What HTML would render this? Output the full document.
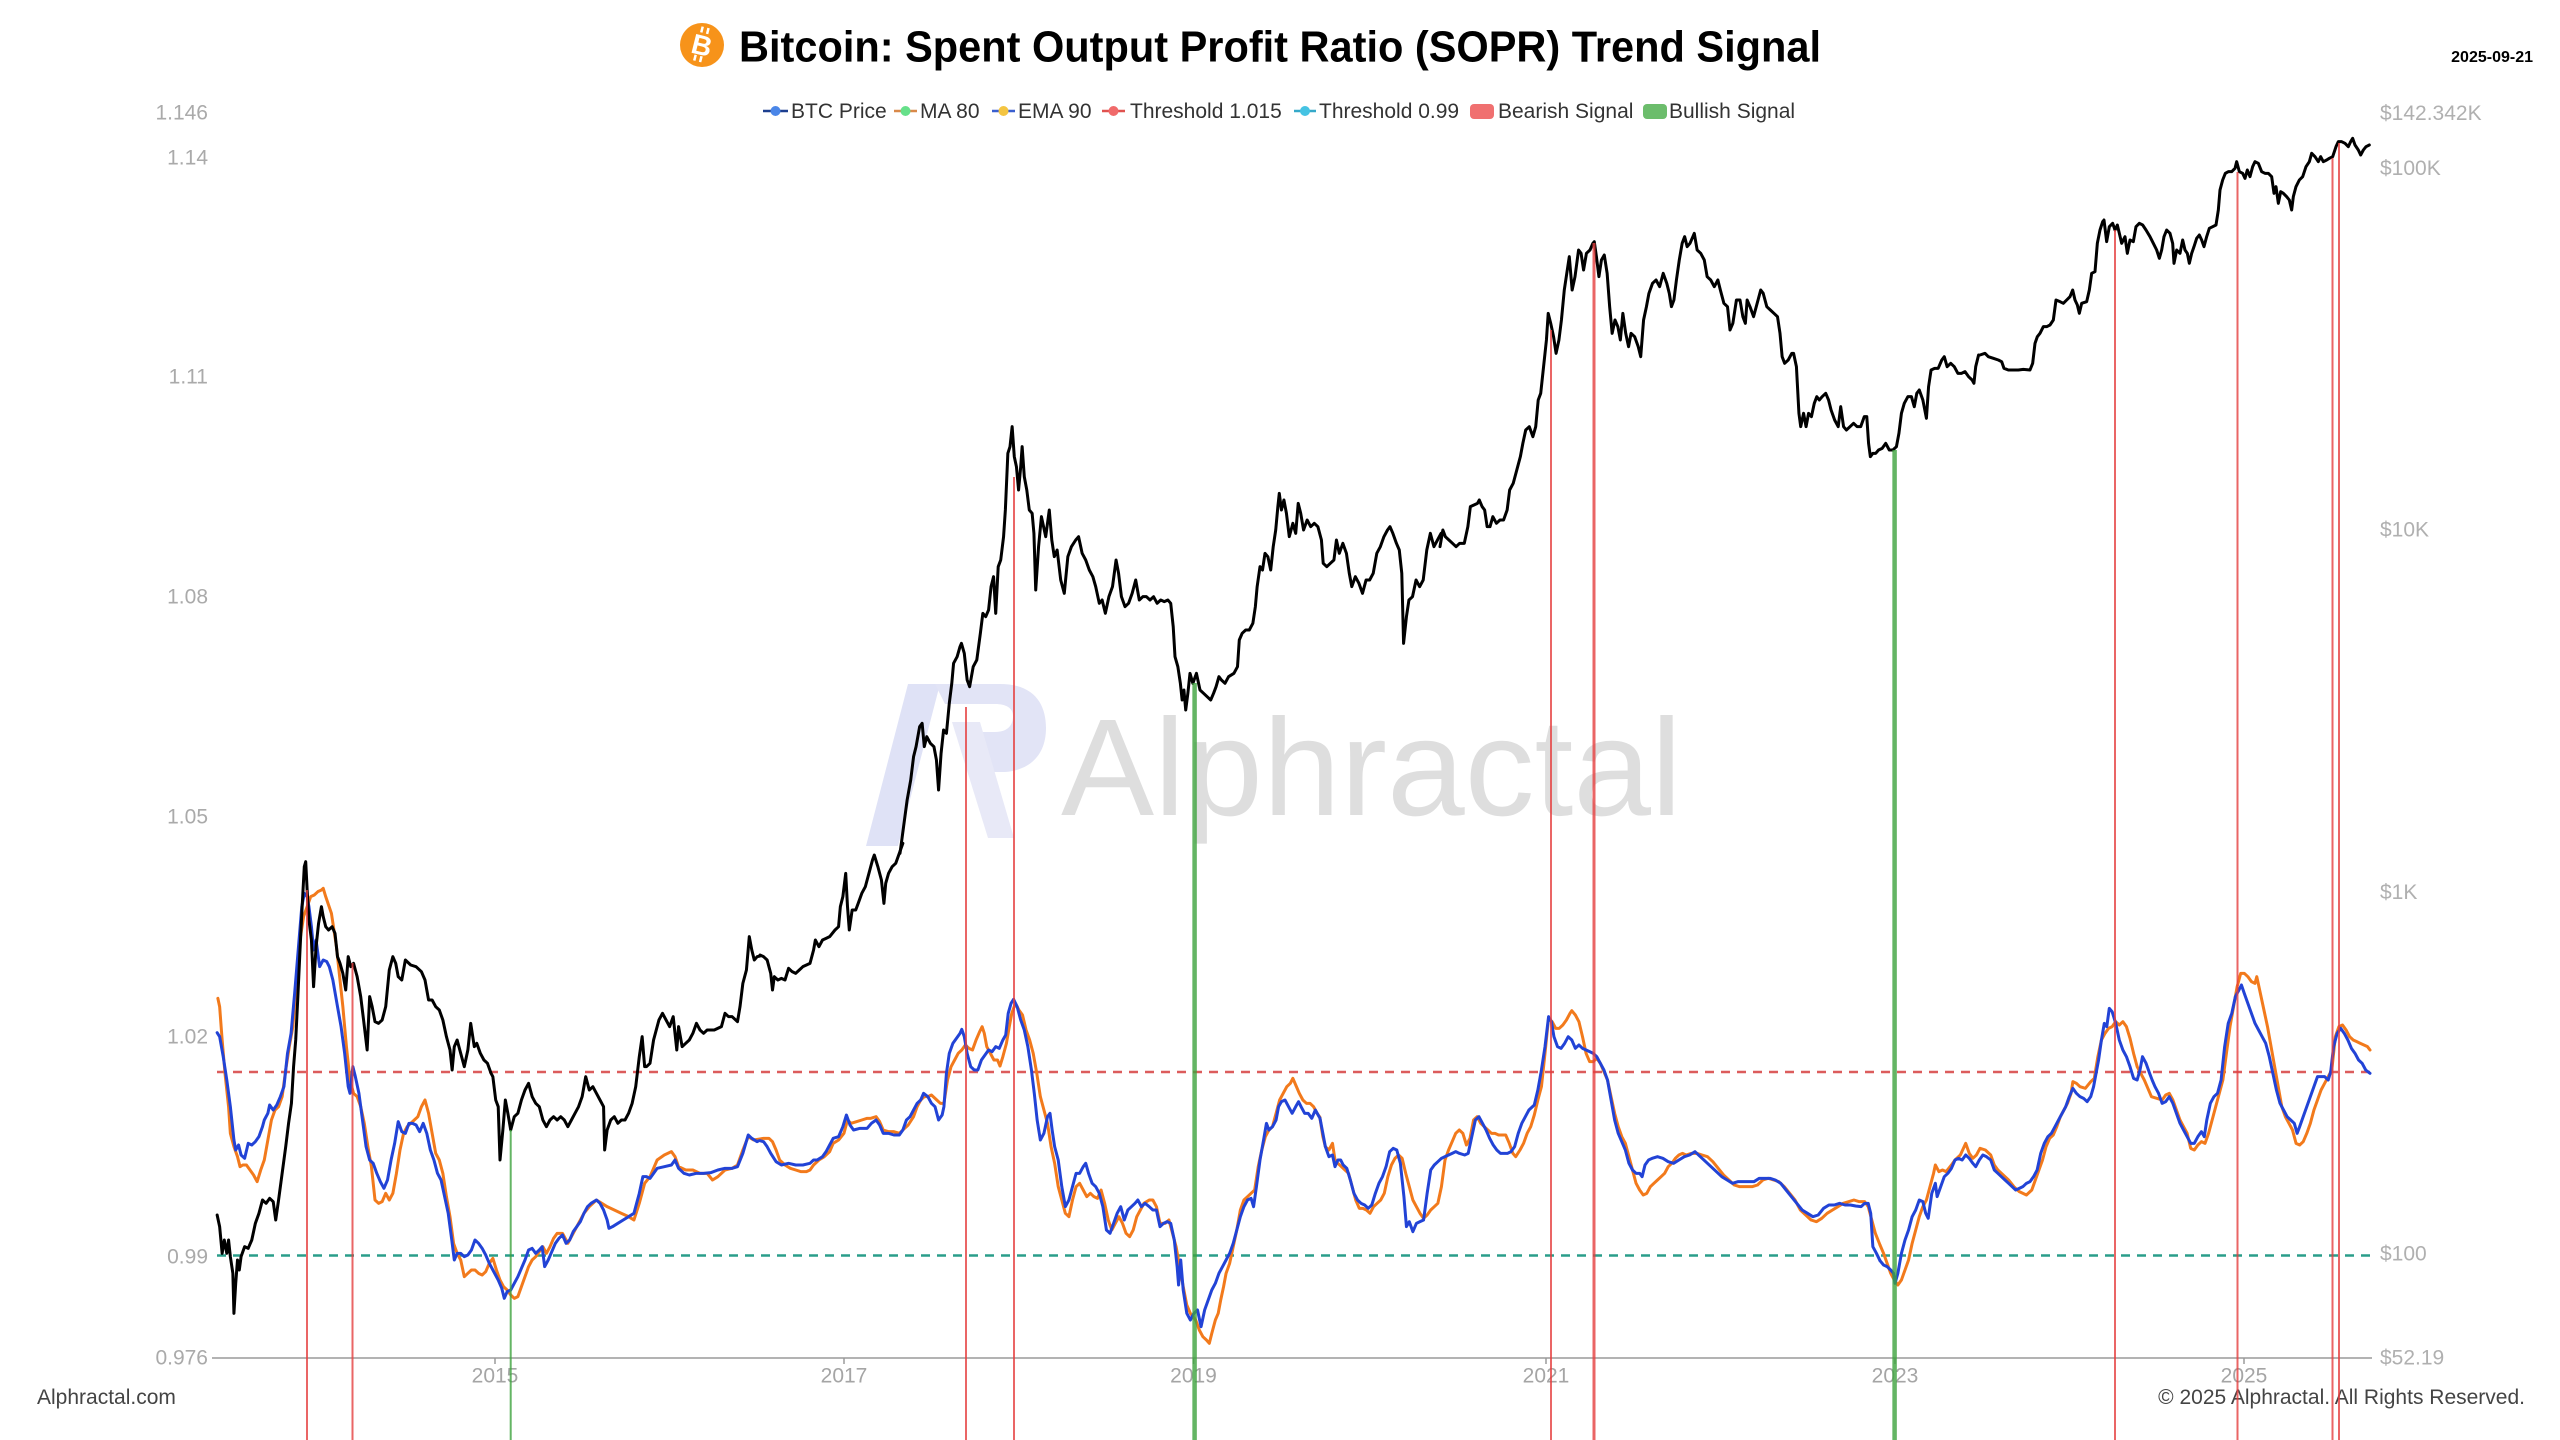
<!DOCTYPE html>
<html>
<head>
<meta charset="utf-8">
<style>
html,body{margin:0;padding:0;background:#fff;}
svg{display:block;}
text{font-family:"Liberation Sans",Arial,sans-serif;}
.ln{fill:none;stroke-linejoin:round;stroke-linecap:round;vector-effect:non-scaling-stroke;}
.b{stroke:#2243d6;stroke-width:3;}
.o{stroke:#f27a1c;stroke-width:3;}
.k{stroke:#000;stroke-width:3;}
</style>
</head>
<body>
<svg width="2560" height="1440" viewBox="0 0 2560 1440" xmlns="http://www.w3.org/2000/svg">
<rect width="2560" height="1440" fill="#fff"/>

<!-- watermark -->
<path d="M866 846 L898 846 L940 684 L908 684 Z" fill="#dfe2f6"/>
<path d="M935 684 L1000 684 C1035 684 1046 705 1046 728 C1046 755 1030 770 1005 772 L985 772 L966 732 L995 732 C1008 732 1013 725 1013 716 C1013 708 1006 704 995 704 L945 704 Z" fill="#e2e4f6"/>
<path d="M952 722 L980 722 L1014 838 L988 838 Z" fill="#e8e9f7"/>
<text x="1061" y="815" font-size="138" fill="#dedede" textLength="621" lengthAdjust="spacingAndGlyphs">Alphractal</text>

<!-- title -->
<circle cx="702" cy="45" r="22" fill="#f7931a"/>
<g transform="rotate(14 702 45)">
<text x="702" y="55" font-size="28" font-weight="bold" fill="#fff" text-anchor="middle">B</text>
<rect x="697" y="27" width="2.5" height="6" fill="#fff"/><rect x="703" y="27" width="2.5" height="6" fill="#fff"/>
<rect x="697" y="56" width="2.5" height="6" fill="#fff"/><rect x="703" y="56" width="2.5" height="6" fill="#fff"/>
</g>
<text x="739" y="61.5" font-size="44" font-weight="bold" fill="#000" textLength="1082" lengthAdjust="spacingAndGlyphs">Bitcoin: Spent Output Profit Ratio (SOPR) Trend Signal</text>
<text x="2533" y="62" font-size="16" font-weight="bold" fill="#000" text-anchor="end">2025-09-21</text>

<!-- legend -->
<g font-size="21" fill="#333">
<line x1="763" y1="111" x2="788" y2="111" stroke="#1d3f8f" stroke-width="2.5"/><circle cx="775.5" cy="111" r="5" fill="#4a86e8"/>
<text x="791" y="118">BTC Price</text>
<line x1="894" y1="111" x2="917" y2="111" stroke="#d9894a" stroke-width="2.5"/><circle cx="905.5" cy="111" r="5" fill="#66e08a"/>
<text x="920" y="118">MA 80</text>
<line x1="992" y1="111" x2="1015" y2="111" stroke="#3a5fcf" stroke-width="2.5"/><circle cx="1003.5" cy="111" r="5" fill="#f4c542"/>
<text x="1018" y="118">EMA 90</text>
<line x1="1102" y1="111" x2="1125" y2="111" stroke="#e0524f" stroke-width="2.5"/><circle cx="1113.5" cy="111" r="5" fill="#f06a6a"/>
<text x="1130" y="118">Threshold 1.015</text>
<line x1="1294" y1="111" x2="1316" y2="111" stroke="#35a9c9" stroke-width="2.5"/><circle cx="1305" cy="111" r="5" fill="#45c3e3"/>
<text x="1319" y="118">Threshold 0.99</text>
<rect x="1470" y="104" width="24" height="15" rx="4" fill="#f07070"/>
<text x="1498" y="118">Bearish Signal</text>
<rect x="1643" y="104" width="24" height="15" rx="4" fill="#6cbd6c"/>
<text x="1669" y="118">Bullish Signal</text>
</g>

<!-- axes labels -->
<g font-size="21" fill="#aaaaaa" text-anchor="end">
<text x="208" y="119.5">1.146</text>
<text x="208" y="164.5">1.14</text>
<text x="208" y="383.5">1.11</text>
<text x="208" y="603.5">1.08</text>
<text x="208" y="823.5">1.05</text>
<text x="208" y="1043.5">1.02</text>
<text x="208" y="1263.5">0.99</text>
<text x="208" y="1364.5">0.976</text>
</g>
<g font-size="21" fill="#b0b0b0">
<text x="2380" y="120">$142.342K</text>
<text x="2380" y="175">$100K</text>
<text x="2380" y="536.5">$10K</text>
<text x="2380" y="899">$1K</text>
<text x="2380" y="1260.5">$100</text>
<text x="2380" y="1364.5">$52.19</text>
</g>
<g font-size="21" fill="#a5a5a5" text-anchor="middle">
<text x="495" y="1382.5">2015</text>
<text x="844" y="1382.5">2017</text>
<text x="1193.5" y="1382.5">2019</text>
<text x="1546" y="1382.5">2021</text>
<text x="1895" y="1382.5">2023</text>
<text x="2244" y="1382.5">2025</text>
</g>
<line x1="212" y1="1358" x2="2372" y2="1358" stroke="#9a9a9a" stroke-width="1.5"/>
<g stroke="#9a9a9a" stroke-width="1.5">
<line x1="495" y1="1358" x2="495" y2="1364"/><line x1="844" y1="1358" x2="844" y2="1364"/><line x1="1193.5" y1="1358" x2="1193.5" y2="1364"/>
<line x1="1546" y1="1358" x2="1546" y2="1364"/><line x1="1895" y1="1358" x2="1895" y2="1364"/><line x1="2244" y1="1358" x2="2244" y2="1364"/>
</g>

<!-- footer -->
<text x="37" y="1404" font-size="21" fill="#444">Alphractal.com</text>
<text x="2525" y="1404" font-size="21" fill="#444" text-anchor="end">© 2025 Alphractal. All Rights Reserved.</text>

<!-- thresholds -->
<line x1="217" y1="1072" x2="2370" y2="1072" stroke="#dc5c5c" stroke-width="2.5" stroke-dasharray="9,7"/>
<line x1="217" y1="1255.5" x2="2370" y2="1255.5" stroke="#2a9d8a" stroke-width="2.5" stroke-dasharray="9,7"/>

<!-- SOPR series zoom5 -->
<g transform="translate(200,840) scale(0.357143,0.333333)">
<polyline class="ln o" points="50,475 55,500 62,600 70,700 80,800 85,880 95,920 105,950 112,980 120,975 130,975 140,990 150,1005 160,1025 170,990 180,960 190,900 200,840 210,810 220,800 230,770 240,690 250,620 260,560 270,420 280,300 290,230 300,200 310,170 320,165 330,155 340,150 345,145 352,170 360,195 368,220 375,270 382,320 390,400 400,500 410,620 420,720 430,760 440,770 450,800 460,850 470,920 480,980 490,1080 500,1090 510,1085 520,1060 530,1080 540,1060 550,1000 560,930 570,880 580,860 590,850 600,840 610,830 620,800 630,780 640,820 650,880 660,940 670,960 680,1000 690,1070 700,1130 710,1210 720,1240 730,1260 740,1310 750,1300 760,1290 770,1290 780,1300 790,1305 800,1295 810,1270 820,1255 830,1290 840,1320 850,1340 860,1350 870,1365 880,1375 890,1370 900,1340 910,1310 920,1280 930,1260 940,1250 950,1235 960,1220 970,1240 980,1220 990,1195 1000,1180 1015,1180 1030,1210 1045,1180 1060,1150 1075,1120 1090,1100 1110,1080 1125,1090 1140,1100 1160,1110 1180,1120 1200,1130 1215,1140 1230,1090 1245,1030 1260,1010 1280,960 1300,945 1320,935 1330,950 1340,980 1360,990 1380,990 1400,1000 1420,1000 1435,1020 1450,1010 1470,990 1490,985 1505,975 1520,930 1535,890 1550,900 1568,897"/>
<polyline class="ln b" points="48,578 55,590 65,650 75,720 85,800 95,900 100,930 108,915 115,945 125,955 135,910 145,915 155,905 165,890 175,860 180,840 190,820 195,795 205,810 215,795 225,770 235,740 245,640 255,580 265,460 275,330 285,200 292,160 300,170 305,200 312,260 318,330 325,300 335,380 340,370 345,360 355,365 362,380 372,420 385,500 395,560 405,640 415,740 420,760 428,680 435,710 445,760 455,840 465,920 475,960 485,970 495,1000 505,1025 515,1045 525,1020 535,960 545,910 555,845 565,875 575,880 585,850 595,850 605,855 615,875 625,850 635,880 645,930 655,960 665,1000 675,1020 685,1070 695,1120 705,1200 712,1260 720,1240 730,1240 740,1250 750,1245 760,1230 770,1200 780,1210 790,1225 800,1245 810,1270 820,1290 835,1320 845,1345 852,1375 860,1355 870,1350 880,1330 890,1310 900,1285 910,1260 920,1230 930,1225 940,1240 950,1230 958,1220 965,1280 975,1260 985,1235 995,1210 1005,1195 1015,1185 1025,1210 1035,1200 1045,1175 1055,1160 1065,1145 1075,1120 1085,1100 1095,1090 1110,1080 1120,1090 1130,1110 1140,1140 1145,1165 1155,1160 1170,1150 1185,1140 1200,1130 1215,1120 1230,1060 1240,1010 1250,1010 1260,1015 1270,1000 1280,985 1300,980 1320,975 1330,960 1340,985 1355,1000 1370,1005 1390,1000 1410,1000 1430,998 1450,990 1470,985 1490,985 1505,980 1520,940 1535,885 1545,895 1560,905 1568,900"/>
<polyline class="ln k" points="48,1125 55,1160 62,1240 68,1200 75,1240 80,1200 85,1250 92,1300 95,1420 100,1330 105,1260 110,1290 115,1250 125,1220 135,1225 145,1200 155,1150 165,1120 175,1080 185,1090 195,1075 205,1085 212,1140 220,1080 230,1000 240,920 248,850 256,790 262,680 268,600 274,470 280,330 286,200 292,80 296,65 300,150 305,240 312,300 318,440 325,320 332,250 340,200 345,230 352,260 360,270 370,260 378,280 385,350 392,370 400,400 408,450 415,350 422,380 430,370 440,410 450,470 458,540 468,630 475,470 482,500 490,545 500,550 510,540 520,500 530,390 540,350 548,370 555,410 565,420 575,360 590,375 605,380 620,395 630,420 640,480 650,480 660,500 670,510 680,540 690,590 700,630 706,690 712,620 720,600 730,640 740,680 750,630 758,550 768,620 775,610 785,640 795,660 805,670 815,700 820,710 828,780 835,800 840,960 848,870 855,780 862,820 870,870 880,830 890,820 900,780 910,750 920,730 930,770 940,790 950,800 960,840 970,860 980,840 990,830 1000,840 1010,830 1020,840 1030,860 1040,840 1050,820 1060,800 1070,770 1080,710 1090,750 1100,740 1110,760 1120,780 1130,800 1133,930 1140,870 1150,840 1160,830 1170,850 1180,840 1190,840 1200,820 1210,790 1220,740 1230,650 1238,590 1245,680 1250,680 1260,670 1270,600 1285,540 1295,520 1305,540 1315,560 1325,530 1335,630 1340,560 1350,620 1360,610 1370,600 1380,580 1390,550 1400,570 1410,580 1420,570 1440,570 1460,560 1470,520 1480,530 1490,530 1505,545 1512,500 1520,430 1530,390 1538,290 1545,330 1552,360 1560,350 1568,348"/>
</g>

<!-- zoom6 -->
<g transform="translate(760,840) scale(0.357143,0.333333)">
<polyline class="ln o" points="0,897 10,895 25,895 35,905 45,930 55,960 70,975 85,985 100,990 115,995 130,995 140,990 150,975 165,960 180,950 195,935 205,910 220,900 235,880 245,840 255,850 270,845 285,840 300,835 310,835 325,830 335,845 345,870 360,875 375,875 390,880 405,865 415,855 430,830 440,800 450,780 460,770 470,770 480,765 495,780 505,790 515,790 525,720 535,680 545,660 555,640 565,630 575,615 585,625 595,630 605,600 615,575 622,560 628,580 635,620 645,640 655,660 665,660 672,678 680,650 690,610 698,560 705,520 715,490 725,510 735,525 745,570 755,600 765,640 775,700 785,770 795,810 805,850 815,920 825,970 835,1040 845,1080 855,1120 865,1130 875,1080 885,1040 895,1030 905,1050 915,1070 925,1060 935,1070 945,1075 955,1050 965,1090 975,1140 985,1170 995,1150 1005,1130 1015,1150 1025,1180 1035,1190 1045,1170 1055,1130 1065,1110 1075,1090 1090,1080 1100,1080 1110,1100 1120,1150 1135,1150 1145,1140 1150,1160 1165,1220 1175,1280 1185,1340 1195,1395 1205,1420 1220,1440 1230,1470 1240,1490 1250,1500 1258,1510 1265,1480 1275,1440 1283,1420 1290,1380 1298,1340 1305,1300 1315,1270 1325,1220 1335,1170 1345,1110 1355,1080 1365,1070 1375,1060 1385,1050 1395,980 1405,930 1415,890 1425,870 1435,860 1445,820 1455,780 1465,760 1475,740 1485,730 1492,715 1500,735 1510,760 1520,780 1530,790 1540,790 1550,800 1560,820 1568,832"/>
<polyline class="ln b" points="0,902 10,905 20,920 30,940 45,965 60,975 80,970 100,975 120,975 140,970 150,960 160,960 175,950 185,935 195,915 205,895 220,890 232,860 242,825 252,855 262,870 280,865 300,865 312,850 325,840 335,855 345,880 360,880 375,885 390,885 400,870 410,840 420,830 430,810 440,790 450,780 458,760 470,770 480,790 490,800 500,840 510,825 515,800 522,700 530,640 540,610 550,595 560,580 565,568 572,590 580,640 590,680 600,690 610,690 620,660 630,645 640,630 650,635 660,620 670,625 680,600 688,585 695,520 703,490 710,478 720,500 730,540 740,570 750,620 760,690 768,760 776,840 785,900 795,880 805,830 812,820 818,870 825,920 835,960 845,1040 855,1100 865,1080 875,1040 885,1000 895,1000 905,980 912,970 920,1000 930,1030 940,1040 950,1060 960,1100 970,1170 980,1180 990,1150 1000,1120 1010,1100 1020,1140 1030,1110 1040,1100 1050,1090 1058,1080 1068,1100 1078,1090 1090,1100 1100,1110 1110,1110 1120,1160 1130,1150 1140,1145 1150,1150 1160,1200 1168,1280 1172,1335 1178,1260 1185,1350 1195,1420 1205,1440 1215,1420 1225,1410 1235,1460 1245,1410 1255,1380 1265,1350 1275,1330 1285,1300 1295,1280 1305,1260 1315,1240 1325,1210 1335,1170 1345,1130 1355,1100 1365,1080 1375,1075 1382,1100 1390,1040 1400,960 1410,900 1418,850 1425,870 1435,860 1445,840 1452,800 1460,785 1470,780 1480,800 1490,820 1500,800 1508,785 1515,800 1525,820 1535,820 1545,835 1555,810 1568,835"/>
<polyline class="ln k" points="0,345 10,350 20,360 30,400 35,450 40,410 50,420 60,415 70,420 80,385 90,395 100,400 110,390 120,380 130,375 140,370 150,330 155,300 165,320 175,300 185,295 195,290 210,270 220,260 225,200 232,170 240,100 245,200 250,270 258,210 268,210 275,190 285,160 295,140 305,100 315,60 320,45 330,80 340,120 347,190 352,130 360,100 370,80 380,70 390,40 400,10"/>
</g>

<!-- zoom7 -->
<g transform="translate(1320,840) scale(0.357143,0.333333)">
<polyline class="ln o" points="0,835 8,890 15,920 25,930 35,910 42,960 50,970 60,980 70,990 80,1000 90,1040 100,1080 110,1105 120,1105 130,1110 140,1120 150,1100 160,1090 170,1080 180,1060 190,1010 200,975 210,955 220,945 230,955 240,1000 250,1040 260,1080 270,1100 280,1120 290,1135 300,1125 310,1110 320,1100 330,1090 340,1040 350,960 360,930 370,905 380,880 390,870 400,880 410,915 420,895 430,840 440,830 450,850 460,860 470,870 480,880 490,880 500,885 510,885 520,885 530,910 540,940 548,950 560,930 570,910 580,880 590,860 600,825 610,780 620,740 630,640 640,535 650,545 660,565 670,565 680,555 690,540 700,520 705,512 715,525 725,545 735,590 745,640 755,665 765,665 775,655 785,670 795,695 805,720 815,770 825,820 835,860 845,890 855,910 865,950 875,990 885,1030 895,1050 905,1065 915,1060 925,1040 935,1030 945,1020 955,1010 965,1000 975,980 985,970 995,955 1005,945 1015,940 1025,945 1040,940 1055,940 1070,945 1085,950 1100,965 1115,985 1130,1005 1145,1020 1160,1035 1175,1040 1190,1040 1210,1040 1225,1035 1240,1020 1255,1015 1270,1020 1285,1025 1300,1040 1315,1060 1330,1080 1345,1110 1360,1125 1375,1140 1390,1145 1405,1135 1420,1120 1435,1110 1450,1100 1465,1090 1480,1085 1495,1080 1510,1085 1525,1085 1535,1100 1545,1140 1555,1180 1568,1215"/>
<polyline class="ln b" points="0,835 8,880 15,920 25,950 35,945 42,980 50,960 58,960 65,975 75,985 85,1020 95,1060 105,1080 115,1090 125,1095 135,1105 145,1095 155,1060 165,1030 175,1010 185,980 195,935 205,925 215,930 225,970 235,1070 242,1160 250,1145 260,1175 270,1150 280,1145 290,1140 300,1060 310,990 320,975 330,965 340,955 350,950 360,945 370,940 380,935 390,940 405,945 415,940 425,890 435,840 445,830 455,850 465,870 475,895 485,915 495,930 505,940 515,940 525,940 535,935 545,920 555,880 565,850 575,830 585,810 600,795 610,750 620,690 630,620 640,530 648,545 655,590 665,620 675,625 685,610 695,590 705,600 715,625 725,615 735,625 745,630 755,635 765,640 775,650 785,670 795,690 805,720 815,780 825,840 835,880 845,905 855,930 865,970 875,990 885,1000 895,1000 902,1010 910,975 920,960 930,955 945,950 960,955 975,965 990,970 1005,960 1020,950 1035,945 1050,935 1065,950 1080,965 1095,980 1110,995 1125,1010 1140,1020 1155,1030 1170,1025 1185,1025 1200,1025 1215,1025 1230,1015 1245,1015 1260,1015 1275,1020 1290,1030 1305,1050 1320,1070 1335,1090 1350,1110 1365,1120 1380,1130 1395,1125 1410,1105 1425,1095 1440,1095 1455,1090 1470,1095 1485,1095 1500,1098 1515,1100 1525,1090 1535,1090 1542,1120 1548,1220 1558,1240 1568,1262"/>
</g>

<!-- zoom8 -->
<g transform="translate(1880,840) scale(0.357143,0.333333)">
<polyline class="ln o" points="0,1215 10,1240 20,1270 30,1300 40,1320 50,1335 60,1320 70,1290 80,1260 90,1210 100,1170 110,1130 120,1100 130,1080 140,1040 150,1000 155,975 165,995 175,990 185,995 200,975 210,960 225,945 240,910 250,940 260,955 270,945 280,925 295,930 310,945 320,975 330,990 345,1005 360,1020 375,1040 390,1055 410,1065 425,1050 435,1020 445,990 455,960 465,920 475,895 485,885 495,860 505,830 515,810 525,790 535,760 540,725 550,730 560,740 575,745 590,725 600,715 610,650 620,600 630,580 640,565 650,560 660,545 670,555 680,545 690,560 700,595 710,640 720,680 730,700 740,720 750,745 760,770 775,775 790,780 800,765 810,760 820,780 830,810 840,840 850,860 860,880 870,925 880,930 890,915 900,905 910,910 920,880 930,840 940,800 950,760 960,720 970,640 980,560 990,500 1000,440 1010,400 1020,400 1030,410 1040,425 1050,430 1055,410 1065,460 1075,510 1085,560 1095,620 1105,680 1115,740 1125,800 1135,830 1145,850 1155,870 1165,910 1175,915 1185,905 1195,880 1205,850 1215,810 1225,780 1235,750 1245,730 1255,710 1265,690 1275,590 1285,560 1295,555 1305,570 1315,590 1325,600 1335,605 1345,610 1355,615 1365,620 1372,630"/>
<polyline class="ln b" points="0,1262 10,1275 20,1280 30,1290 38,1300 42,1330 50,1300 60,1240 70,1200 80,1170 90,1130 100,1110 110,1080 120,1085 128,1120 135,1135 145,1060 155,1030 160,1070 170,1040 180,1010 190,1000 200,985 210,960 220,955 230,960 240,945 250,955 260,970 268,980 278,960 288,945 298,950 310,960 320,990 330,1000 340,1010 350,1020 360,1030 370,1040 380,1050 390,1045 400,1040 410,1030 420,1025 430,1010 440,990 450,940 460,910 470,890 480,880 490,860 500,840 510,820 520,800 530,770 540,745 550,760 560,770 570,775 580,785 590,770 598,740 605,700 612,660 620,600 628,550 635,560 642,505 650,515 660,550 670,600 680,630 690,650 700,680 710,715 720,720 728,690 735,650 745,670 755,700 762,720 770,740 780,760 790,790 800,785 810,770 820,790 830,820 840,850 850,870 860,890 870,910 880,910 890,890 900,875 908,890 915,840 925,790 935,770 945,760 955,720 965,620 975,550 985,520 995,470 1005,450 1012,435 1020,460 1030,490 1040,520 1050,550 1060,570 1070,590 1080,610 1090,650 1100,700 1110,750 1120,790 1130,810 1140,830 1150,840 1160,850 1168,880 1175,860 1185,830 1195,800 1205,770 1215,740 1225,710 1235,710 1245,710 1255,720 1262,695 1270,620 1280,580 1290,565 1300,580 1310,600 1320,625 1330,640 1340,660 1350,670 1360,690 1372,700"/>
</g>

<!-- price zoom9 -->
<g transform="translate(900,400) scale(0.357143,0.333333)">
<polyline class="ln k" points="0,1360 10,1280 20,1200 30,1140 38,1070 45,1040 55,980 62,970 68,1040 75,1010 85,1030 95,1040 102,1080 108,1170 115,1060 122,990 130,1000 138,910 145,850 150,790 160,770 168,740 172,730 180,760 188,840 195,860 205,800 215,780 225,700 232,640 240,650 248,630 255,560 262,530 268,640 275,500 282,480 290,410 295,330 302,160 308,140 314,80 320,170 326,200 332,270 338,200 342,140 348,230 355,270 362,330 370,340 375,400 380,570 388,440 396,350 402,380 408,410 418,330 425,420 432,470 440,450 450,540 460,580 470,470 480,440 492,420 500,410 510,460 520,480 530,510 540,530 548,560 558,610 566,600 575,640 585,590 595,560 605,480 612,520 620,590 630,620 640,610 650,580 660,540 670,600 680,590 690,590 700,600 710,590 720,610 730,600 740,605 750,600 758,610 765,680 770,770 778,800 785,850 790,900 795,870 800,930 806,880 812,820 820,850 830,820 840,870 850,880 860,890 870,900 878,880 885,860 893,830 900,840 910,850 920,830 935,820 945,800 950,720 958,700 968,690 978,690 988,670 995,620 1000,560 1008,500 1015,510 1022,460 1030,470 1038,510 1045,440 1052,390 1058,320 1062,280 1068,330 1075,300 1082,340 1090,410 1100,370 1108,400 1115,310 1122,340 1130,390 1140,360 1150,380 1160,370 1170,380 1180,420 1185,490 1195,500 1205,490 1215,480 1222,420 1230,460 1240,430 1250,460 1258,520 1265,560 1275,530 1285,550 1295,580 1305,540 1315,540 1325,520 1335,460 1345,440 1355,410 1365,390 1372,380 1380,400 1390,430 1398,450 1405,520 1410,730 1418,650 1425,600 1435,590 1445,540 1455,560 1465,540 1475,450 1485,400 1495,440 1505,420 1515,400"/>
</g>

<!-- price zoom10 -->
<g transform="translate(1440,180) scale(0.357143,0.333333)">
<polyline class="ln k" points="0,1100 8,1050 15,1070 25,1080 35,1090 45,1100 55,1090 68,1090 78,1040 85,980 95,975 105,970 110,960 118,980 125,990 132,1040 140,1040 148,1010 158,1030 168,1020 178,1020 188,990 195,930 205,910 215,870 225,830 232,790 240,750 250,740 260,770 268,740 275,660 282,640 290,560 298,480 303,400 310,430 318,470 325,520 333,480 340,420 348,330 355,280 362,230 370,330 378,290 388,210 395,220 402,270 410,220 420,210 428,190 432,185 438,230 445,290 452,240 460,225 468,280 475,380 482,460 490,420 498,440 505,480 512,400 520,460 528,500 535,460 545,470 555,500 562,530 570,420 578,380 585,340 595,310 605,300 615,320 625,280 635,310 642,340 648,380 655,360 662,300 670,240 678,190 685,170 692,200 700,190 708,170 712,160 720,210 730,220 740,240 748,290 758,300 768,320 778,300 785,330 795,370 805,380 812,450 820,430 830,360 840,360 848,410 855,430 860,360 868,380 878,410 888,370 898,330 905,340 915,380 925,390 935,400 945,410 952,460 958,530 965,550 975,540 985,520 990,520 998,560 1005,700 1010,740 1018,700 1025,740 1032,700 1040,710 1048,670 1055,650 1062,660 1070,650 1080,640 1088,660 1095,690 1105,720 1115,740 1122,680 1130,740 1138,750 1148,740 1158,730 1168,740 1178,740 1188,710 1195,710 1200,790 1205,830 1212,820 1220,820 1228,810 1238,805 1248,790 1258,810 1268,810 1278,800 1285,760 1292,700 1300,670 1310,650 1320,650 1328,680 1335,640 1342,630 1352,660 1362,715 1368,620 1375,570 1385,565 1395,565 1405,540 1412,530 1420,560 1430,550 1440,560 1450,580 1460,580 1470,575 1480,590 1490,600 1495,610 1500,560 1508,525"/>
</g>

<!-- price zoom11 -->
<g transform="translate(1980,110) scale(0.333333,0.333333)">
<polyline class="ln k" points="0,735 15,730 25,740 40,745 55,750 65,755 72,775 85,780 100,780 115,780 130,778 150,780 158,760 165,700 172,680 180,670 190,650 200,650 210,645 220,630 228,570 240,575 250,580 260,570 270,560 278,540 285,570 292,585 298,610 305,580 320,575 328,540 335,490 345,485 352,400 360,360 368,335 372,330 380,395 388,350 398,340 405,360 412,345 418,370 425,400 435,380 442,430 450,390 460,395 468,350 478,340 488,345 498,360 510,380 520,400 530,420 538,445 545,420 552,380 560,360 570,370 578,400 582,460 590,420 600,430 608,390 615,420 622,430 628,460 635,430 642,410 650,385 658,375 665,390 672,410 680,380 688,355 698,350 708,345 715,300 720,240 728,210 736,190 745,185 755,185 765,175 770,155 778,185 788,190 795,205 802,180 810,200 818,170 825,155 835,160 845,185 855,190 865,190 875,200 882,250 888,230 895,280 902,245 910,250 920,260 928,270 935,300 940,260 948,230 958,210 968,200 978,170 988,155 995,130 1005,140 1015,155 1022,140 1030,155 1040,150 1048,145 1058,140 1068,110 1075,95 1085,95 1095,100 1105,110 1112,95 1118,85 1125,105 1135,120 1142,135 1150,120 1158,110 1168,105"/>
</g>

<!-- signal bars -->
<g stroke-opacity="0.8">
<line x1="307" y1="890" x2="307" y2="1440" stroke="#e53e3e" stroke-width="2"/>
<line x1="352.5" y1="963" x2="352.5" y2="1440" stroke="#e53e3e" stroke-width="2"/>
<line x1="966" y1="707" x2="966" y2="1440" stroke="#e53e3e" stroke-width="2"/>
<line x1="1014" y1="477" x2="1014" y2="1440" stroke="#e53e3e" stroke-width="2"/>
<line x1="1551" y1="330" x2="1551" y2="1440" stroke="#e53e3e" stroke-width="2"/>
<line x1="1594" y1="243" x2="1594" y2="1440" stroke="#e53e3e" stroke-width="3"/>
<line x1="2115" y1="230" x2="2115" y2="1440" stroke="#e53e3e" stroke-width="2"/>
<line x1="2237.5" y1="172" x2="2237.5" y2="1440" stroke="#e53e3e" stroke-width="2"/>
<line x1="2332.5" y1="158" x2="2332.5" y2="1440" stroke="#e53e3e" stroke-width="2"/>
<line x1="2339" y1="143" x2="2339" y2="1440" stroke="#e53e3e" stroke-width="2"/>
<line x1="510.7" y1="1130" x2="510.7" y2="1440" stroke="#3da33d" stroke-width="2"/>
<line x1="1194.6" y1="683" x2="1194.6" y2="1440" stroke="#3da33d" stroke-width="4.5"/>
<line x1="1894.6" y1="450" x2="1894.6" y2="1440" stroke="#3da33d" stroke-width="4.5"/>
</g>
</svg>
</body>
</html>
